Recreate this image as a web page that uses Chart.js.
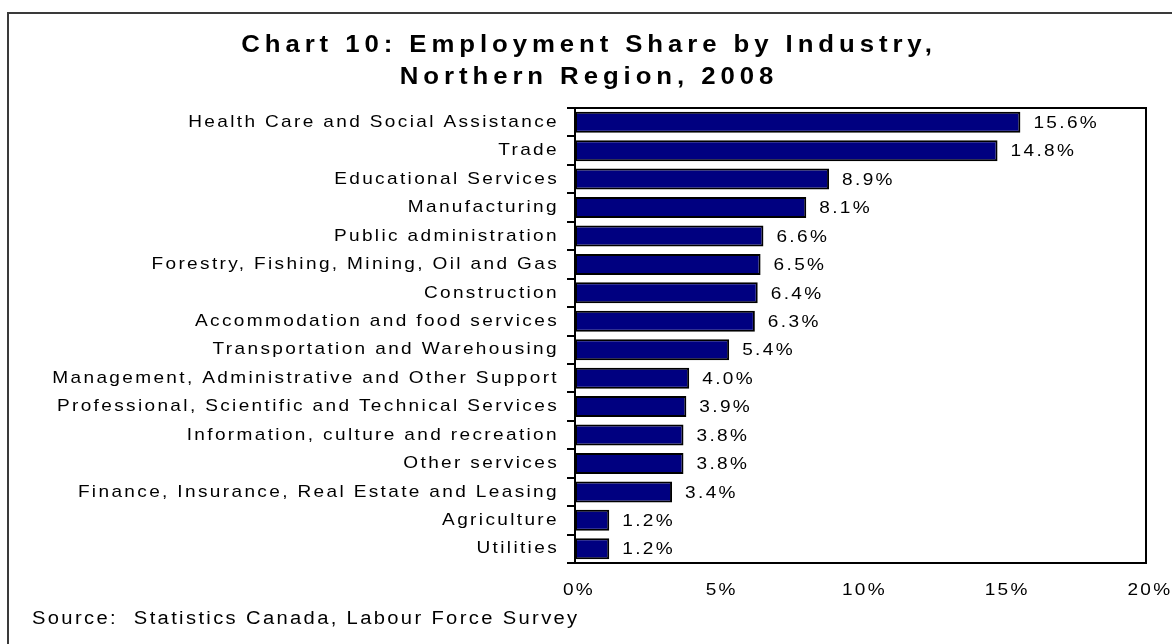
<!DOCTYPE html>
<html>
<head>
<meta charset="utf-8">
<title>Employment Share by Industry, Northern Region, 2008</title>
<script src="https://cdn.jsdelivr.net/npm/chart.js@4.4.1/dist/chart.umd.min.js"></script>
<style>
  html, body { margin: 0; padding: 0; background: #fff; overflow: hidden; }
  #wrap { position: relative; width: 1172px; height: 644px; }
  canvas { display: block; }
</style>
</head>
<body>
<div id="wrap"><canvas id="chart" width="1172" height="644"></canvas></div>
<script>
// Industries, top to bottom
const industries = [
  'Health Care and Social Assistance',
  'Trade',
  'Educational Services',
  'Manufacturing',
  'Public administration',
  'Forestry, Fishing, Mining, Oil and Gas',
  'Construction',
  'Accommodation and food services',
  'Transportation and Warehousing',
  'Management, Administrative and Other Support',
  'Professional, Scientific and Technical Services',
  'Information, culture and recreation',
  'Other services',
  'Finance, Insurance, Real Estate and Leasing',
  'Agriculture',
  'Utilities'
];

// Share of total employment, per cent
const employmentShare = [15.6, 14.8, 8.9, 8.1, 6.6, 6.5, 6.4, 6.3, 5.4, 4.0, 3.9, 3.8, 3.8, 3.4, 1.2, 1.2];

// Value axis ticks, per cent
const shareTicks = [0, 5, 10, 15, 20];

const titleLines = ['Chart 10: Employment Share by Industry,', 'Northern Region, 2008'];
const sourceNote = 'Source:  Statistics Canada, Labour Force Survey';

const FONT_FAMILY = "'Liberation Sans', Arial, Helvetica, sans-serif";
const TEXT_SIZE = 17;
const SOURCE_SIZE = 18;
const TEXT_STRETCH = 1.12;   // slightly expanded lettering

// Letter spacing: bold title vs. regular text
function spacingFor(font) {
  return /bold/.test(font) ? '4.4px' : '2.1px';
}

// Expanded, spaced lettering for every text drawn on the chart
const letteringPlugin = {
  id: 'lettering',
  beforeInit(chart) {
    const ctx = chart.ctx;
    const fill = ctx.fillText;
    const measure = ctx.measureText;
    ctx.fillText = function (text, x, y) {
      this.letterSpacing = spacingFor(this.font);
      this.save();
      this.translate(x, y);
      this.scale(TEXT_STRETCH, 1);
      fill.call(this, text, 0, 0);
      this.restore();
    };
    ctx.measureText = function (text) {
      this.letterSpacing = spacingFor(this.font);
      const m = measure.call(this, text);
      return {
        width: m.width * TEXT_STRETCH,
        actualBoundingBoxLeft: m.actualBoundingBoxLeft * TEXT_STRETCH,
        actualBoundingBoxRight: m.actualBoundingBoxRight * TEXT_STRETCH,
        actualBoundingBoxAscent: m.actualBoundingBoxAscent,
        actualBoundingBoxDescent: m.actualBoundingBoxDescent,
        fontBoundingBoxAscent: m.fontBoundingBoxAscent,
        fontBoundingBoxDescent: m.fontBoundingBoxDescent
      };
    };
  }
};

// Outer frame and white page behind the chart
const pageFramePlugin = {
  id: 'pageFrame',
  beforeDraw(chart) {
    const ctx = chart.ctx;
    ctx.save();
    ctx.fillStyle = '#ffffff';
    ctx.fillRect(0, 0, chart.width, chart.height);
    ctx.strokeStyle = '#3a3a3a';
    ctx.lineWidth = 2;
    ctx.strokeRect(8, 13, chart.width + 40, chart.height + 40);
    ctx.restore();
  }
};

// Black box round the plot area
const plotBoxPlugin = {
  id: 'plotBox',
  afterDraw(chart) {
    const { ctx, chartArea: a } = chart;
    ctx.save();
    ctx.strokeStyle = '#000000';
    ctx.lineWidth = 2;
    ctx.strokeRect(a.left, a.top, a.right - a.left, a.bottom - a.top);
    ctx.restore();
  }
};

// Percentage written after each bar
const valueLabelPlugin = {
  id: 'valueLabels',
  afterDatasetsDraw(chart) {
    const ctx = chart.ctx;
    const meta = chart.getDatasetMeta(0);
    ctx.save();
    ctx.font = TEXT_SIZE + 'px ' + FONT_FAMILY;
    ctx.fillStyle = '#000000';
    ctx.textAlign = 'left';
    ctx.textBaseline = 'middle';
    meta.data.forEach((bar, i) => {
      const v = chart.data.datasets[0].data[i];
      ctx.fillText(v.toFixed(1) + '%', bar.x + 13, bar.y + 1);
    });
    ctx.restore();
  }
};

Chart.defaults.font.family = FONT_FAMILY;
Chart.defaults.color = '#000000';

new Chart(document.getElementById('chart'), {
  type: 'bar',
  data: {
    labels: industries,
    datasets: [{
      data: employmentShare,
      backgroundColor: '#000080',
      borderColor: '#000000',
      borderWidth: 2,
      borderSkipped: false,
      barPercentage: 0.74,
      categoryPercentage: 1.0
    }]
  },
  options: {
    indexAxis: 'y',
    responsive: false,
    animation: false,
    layout: { padding: { left: 32, right: 26, top: 0, bottom: 0 } },
    plugins: {
      legend: { display: false },
      tooltip: { enabled: false },
      title: {
        display: true,
        text: titleLines,
        color: '#000000',
        font: { size: 23, weight: 'bold', lineHeight: 32 / 23 },
        padding: { top: 30, bottom: 14 }
      },
      subtitle: {
        display: true,
        text: sourceNote,
        position: 'bottom',
        align: 'start',
        color: '#000000',
        font: { size: SOURCE_SIZE, weight: 'normal', lineHeight: 20 / SOURCE_SIZE },
        padding: { top: 0, bottom: 15 }
      }
    },
    scales: {
      x: {
        type: 'linear',
        min: shareTicks[0],
        max: shareTicks[shareTicks.length - 1],
        afterBuildTicks(scale) { scale.ticks = shareTicks.map(v => ({ value: v })); },
        ticks: {
          callback: v => v + '%',
          font: { size: TEXT_SIZE },
          padding: 17,
          labelOffset: 4,
          maxRotation: 0
        },
        grid: { display: false, drawTicks: false },
        border: { display: true, color: '#000000', width: 2 },
        afterFit(scale) {
          scale.height = 46;
          scale.paddingLeft = 0;
          scale.paddingRight = 0;
        }
      },
      y: {
        type: 'category',
        ticks: { font: { size: TEXT_SIZE }, padding: 8, autoSkip: false },
        grid: {
          display: true,
          drawOnChartArea: false,
          drawTicks: true,
          tickLength: 8,
          offset: true,
          color: '#000000',
          lineWidth: 2
        },
        border: { display: true, color: '#000000', width: 2 },
        afterFit(scale) {
          scale.width = 543;
          scale.paddingTop = 0;
          scale.paddingBottom = 0;
        }
      }
    }
  },
  plugins: [letteringPlugin, pageFramePlugin, plotBoxPlugin, valueLabelPlugin]
});
</script>
</body>
</html>
